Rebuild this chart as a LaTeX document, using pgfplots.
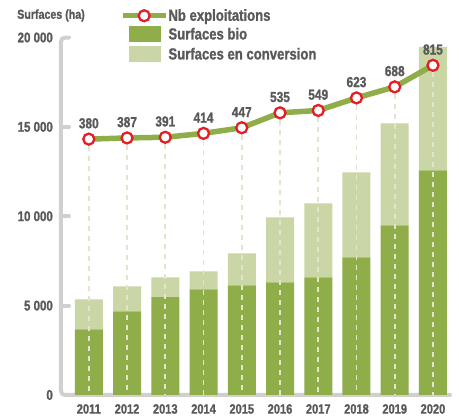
\documentclass[border=0pt]{standalone}
\usepackage{fontspec}
\setmainfont{Liberation Sans}[FakeStretch=0.82]
\newfontfamily\bfam{Liberation Sans Bold}[FakeStretch=0.82, FakeBold=1.2]
\usepackage{pgfplots}
\usepackage{pgfplotstable}
\pgfplotsset{compat=1.18}
\definecolor{bio}{RGB}{143,173,72}
\definecolor{conv}{RGB}{203,214,166}
\definecolor{mred}{RGB}{227,30,36}
\definecolor{txt}{RGB}{88,89,91}
\definecolor{axg}{RGB}{208,208,208}
\definecolor{drop}{RGB}{226,229,204}
\pgfplotstableread{
x year bio conv nb
0 2011 3670 1680 380
1 2012 4680 1400 387
2 2013 5480 1100 391
3 2014 5910 1010 414
4 2015 6130 1790 447
5 2016 6300 3640 535
6 2017 6580 4140 549
7 2018 7700 4760 623
8 2019 9490 5710 688
9 2020 12570 6900 815
}\data
\pgfplotsset{/pgf/number format/assume math mode=true}
\newcommand{\lfont}{\bfam\fontsize{16}{16}\selectfont}
\begin{document}
\begin{tikzpicture}[x=1pt,y=1pt]
\useasboundingbox (0,0) rectangle (459,416);
\begin{axis}[
  at={(61pt,21pt)}, anchor=south west,
  scale only axis, width=389pt, height=357.5pt,
  xmin=-0.727, xmax=9.445, ymin=0, ymax=20000,
  axis line style={draw=none},
  scaled y ticks=false,
  ybar stacked, bar width=28pt,
  xtick={0,...,9}, xticklabels={2011,2012,2013,2014,2015,2016,2017,2018,2019,2020},
  ytick={0,5000,10000,15000,20000},
  yticklabels={0,5 000,10 000,15 000,20 000},
  major tick length=0pt, tick style={draw=none},
  xticklabel style={font=\bfam\fontsize{13.5}{14}\selectfont, text=txt, inner sep=0pt, anchor=north, yshift=-9pt},
  yticklabel style={font=\bfam\fontsize{14}{14}\selectfont, text=txt, inner sep=0pt, anchor=east, xshift=-8pt},
  title={Surfaces (ha)},
  title style={at={(axis description cs:-0.113,1.045)}, anchor=west, font=\bfam\fontsize{13}{13}\selectfont, text=txt, inner sep=0pt},
  clip=false,
]
\addplot[fill=bio, draw=none] table[x=x,y=bio]{\data};
\addplot[fill=conv, draw=none] table[x=x,y=conv]{\data};
\draw[axg, line width=4pt, line cap=round, rounded corners=4pt] (rel axis cs:0.0206,1) -- (rel axis cs:0,1) -- (rel axis cs:0,0) -- (rel axis cs:1,0);
\draw[axg, line width=4pt, line cap=round] (rel axis cs:0,0.25) -- (rel axis cs:0.0206,0.25);
\draw[axg, line width=4pt, line cap=round] (rel axis cs:0,0.5) -- (rel axis cs:0.0206,0.5);
\draw[axg, line width=4pt, line cap=round] (rel axis cs:0,0.75) -- (rel axis cs:0.0206,0.75);
\end{axis}
\begin{axis}[
  at={(61pt,21pt)}, anchor=south west,
  scale only axis, width=389pt, height=357.5pt,
  xmin=-0.727, xmax=9.445, ymin=-1128, ymax=979,
  hide axis,
  legend style={at={(axis description cs:0.151,1.080)}, anchor=north west, draw=none, fill=none,
    inner sep=0pt, row sep=4pt,
    nodes={inner sep=0pt, text=txt, font=\lfont},
    /tikz/every even column/.append style={column sep=4pt}},
  legend cell align=left,
]
\addlegendimage{legend image code/.code={
  \draw[line width=5.5pt, bio] (0pt,0pt) -- (43pt,0pt);
  \draw[mred, line width=2.3pt, fill=white] (21.5pt,0pt) circle (5.5pt);}}
\addlegendimage{legend image code/.code={
  \path[draw=none, fill=none] (0pt,-8pt) rectangle (43pt,8pt);
  \fill[bio, draw=none] (6pt,-8pt) rectangle (38pt,8pt);}}
\addlegendimage{legend image code/.code={
  \path[draw=none, fill=none] (0pt,-8pt) rectangle (43pt,8pt);
  \fill[conv, draw=none] (6pt,-8pt) rectangle (38pt,8pt);}}
\addplot[bio, line width=5.5pt, mark=*, mark size=5.5pt,
  mark options={draw=mred, fill=white, line width=2.3pt},
  nodes near coords,
  nodes near coords style={font=\bfam\fontsize{14.5}{15}\selectfont, text=txt, anchor=south, inner sep=0pt, yshift=9.5pt},
  error bars/.cd, y dir=minus, y fixed=2500, error mark=none,
  error bar style={drop, line width=1.6pt, dash pattern=on 5pt off 5pt, dash phase=3pt}]
  table[x=x, y=nb]{\data};
\legend{{\lfont Nb exploitations}, {\lfont Surfaces bio}, {\lfont Surfaces en conversion}}
\end{axis}
\end{tikzpicture}
\end{document}
